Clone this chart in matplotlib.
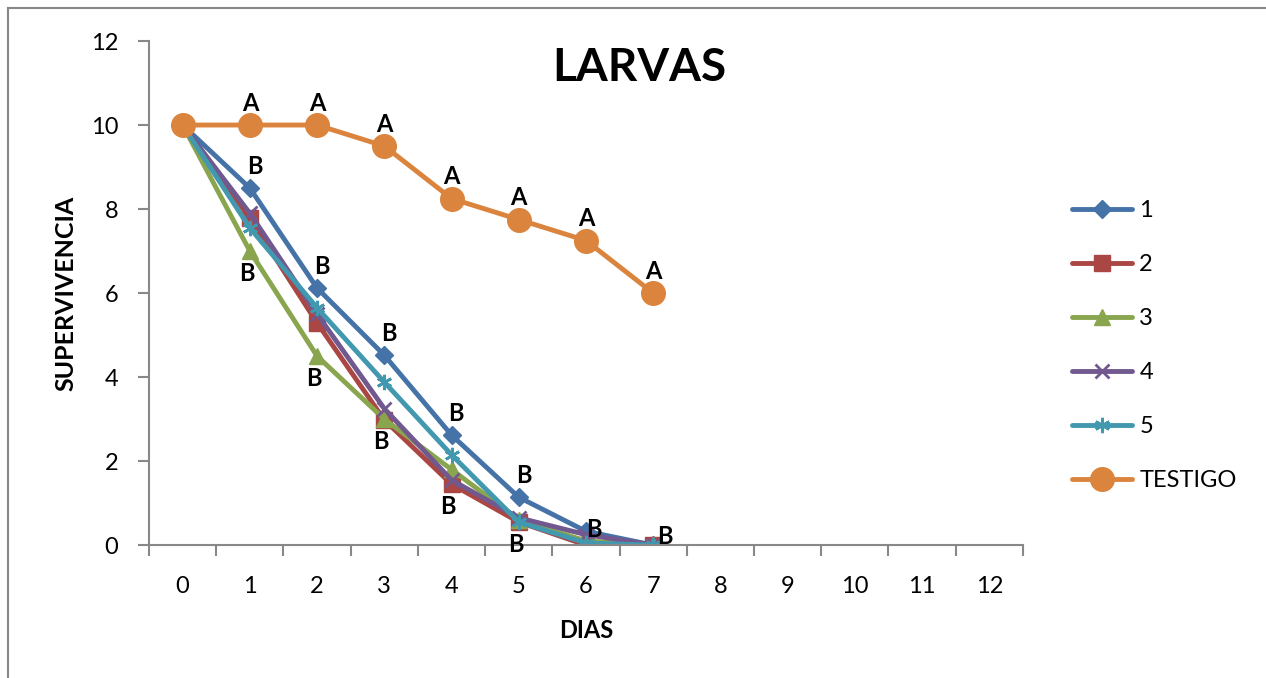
''' Supervivencia de larvas por dia '''
import matplotlib.pyplot as plt
from matplotlib.lines import Line2D

plt.rcParams['font.family'] = ['Lato', 'DejaVu Sans']

# Datos
dias = [0, 1, 2, 3, 4, 5, 6, 7]
t1 = [10, 8.5, 6.12, 4.52, 2.62, 1.14, 0.33, 0]
t2 = [10, 7.78, 5.29, 2.98, 1.45, 0.55, 0, 0]
t3 = [10, 7.0, 4.5, 3.0, 1.8, 0.6, 0.1, 0]
t4 = [10, 7.9, 5.5, 3.25, 1.55, 0.65, 0.25, 0]
t5 = [10, 7.55, 5.65, 3.88, 2.15, 0.55, 0.05, 0]
testigo = [10, 10, 10, 9.5, 8.25, 7.75, 7.25, 6.0]
series_names = ['1', '2', '3', '4', '5', 'TESTIGO']
x_ticks = list(range(13))
y_ticks = [0, 2, 4, 6, 8, 10, 12]

# letras de significancia
a_dias = [1, 2, 3, 4, 5, 6, 7]
b_arriba_dias = [1, 2, 3, 4, 5]
b_abajo_dias = [1, 2, 3, 4, 5]

colors = ['#4572A7', '#AA4643', '#89A54E', '#71588F', '#4198AF', '#DB843D']
markers = ['D', 's', '^', 'x', (6, 2, 0), 'o']
msizes = [9, 11, 11, 10, 11, 17]

fig = plt.figure(figsize=(12.66, 6.78), dpi=100)
ax = fig.add_axes([0.1177, 0.196, 0.6903, 0.7435])

for vals, name, c, m, ms in zip([t1, t2, t3, t4, t5, testigo], series_names, colors, markers, msizes):
    ax.plot(dias, vals, color=c, marker=m, markersize=ms, lw=3.5, label=name,
            markeredgewidth=2 if m in ('x', (6, 2, 0)) else 1, markeredgecolor=c,
            solid_capstyle='round', solid_joinstyle='round')

fs_letra = 17
# letras A sobre testigo
for d in a_dias:
    ax.text(d, testigo[d] + 0.25, 'A', ha='center', va='bottom', fontsize=fs_letra, fontweight='bold')

# letras B sobre la serie 1 y bajo la serie 3
for d in b_arriba_dias:
    ax.text(d + 0.07, t1[d] + 0.25, 'B', ha='center', va='bottom', fontsize=fs_letra, fontweight='bold')
for d in b_abajo_dias:
    lo = min(t1[d], t2[d], t3[d], t4[d], t5[d])
    ax.text(d - 0.05, lo - 0.25, 'B', ha='center', va='top', fontsize=fs_letra, fontweight='bold')
ax.text(6.12, t1[6] + 0.05, 'B', ha='center', va='center', fontsize=fs_letra, fontweight='bold')
ax.text(7.18, t1[7] + 0.2, 'B', ha='center', va='center', fontsize=fs_letra, fontweight='bold')

ax.set_xlim(-0.5, 12.5)
ax.set_ylim(0, 12)
ax.set_yticks(y_ticks)
ax.set_xticks(x_ticks)
ax.set_xticks([t + 0.5 for t in range(-1, 13)], minor=True)
ax.tick_params(axis='x', which='major', length=0, pad=22, labelsize=17)
ax.tick_params(axis='x', which='minor', length=8, color='#888888', width=1.5, direction='out')
ax.tick_params(axis='y', length=8, color='#888888', width=1.5, labelsize=17, pad=14)

for pos in ['top', 'right']:
    ax.spines[pos].set_visible(False)
for pos in ['left', 'bottom']:
    ax.spines[pos].set_color('#888888')
    ax.spines[pos].set_linewidth(1.5)

ax.set_xlabel('DIAS', fontsize=17, fontweight='bold', labelpad=16)
ax.set_ylabel('SUPERVIVENCIA', fontsize=18, fontweight='bold', labelpad=10)
fig.text(0.505, 0.9, 'LARVAS', ha='center', va='center', fontsize=33, fontweight='bold')

leg = fig.legend(loc='center left', bbox_to_anchor=(0.83, 0.49), frameon=False, fontsize=17,
                 handlelength=2.55, labelspacing=1.4, handletextpad=0.3)

# borde del grafico (solo se ven arriba e izquierda)
fig.add_artist(Line2D([0.0065, 1.0], [0.988, 0.988], transform=fig.transFigure, color='#888888', lw=1.5))
fig.add_artist(Line2D([0.0065, 0.0065], [0.0, 0.988], transform=fig.transFigure, color='#888888', lw=1.5))

fig.savefig('out.png', dpi=100)
